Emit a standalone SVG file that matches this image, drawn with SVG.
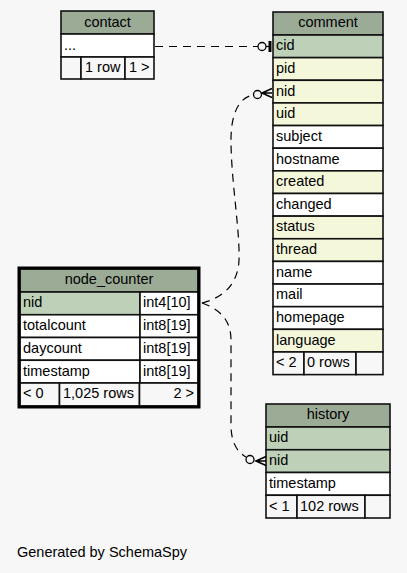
<svg xmlns="http://www.w3.org/2000/svg" width="407" height="573" viewBox="0 0 407 573">
<style>
text{font-family:"Liberation Sans",Arial,sans-serif;font-size:14.5px;fill:#000}
.c{text-anchor:middle}
.r{text-anchor:end}
rect{stroke:#111;stroke-width:1.6}
.h{fill:#9bab96}
.k{fill:#bed1b8}
.f{fill:#f4f7da}
.w{fill:#ffffff}
.b{fill:#f7f7f7}
.focus{fill:none;stroke:#000;stroke-width:3}
.edge{fill:none;stroke:#000;stroke-width:1.2;stroke-dasharray:8,6}
.tip{fill:none;stroke:#000;stroke-width:1.2}
.dot{fill:#f7f7f7;stroke:#000;stroke-width:1.3}
</style>
<rect x="0" y="0" width="407" height="573" style="fill:#f7f7f7;stroke:none"/>

<g id="contact">
<rect class="h" x="61" y="11" width="93" height="23"/>
<text class="c" x="107.5" y="26.5">contact</text>
<rect class="w" x="61" y="34" width="93" height="23"/>
<text x="64" y="49.5">...</text>
<rect class="b" x="61" y="57" width="20" height="22"/>
<rect class="b" x="81" y="57" width="44" height="22"/>
<rect class="b" x="125" y="57" width="29" height="22"/>
<text x="85" y="72">1 row</text>
<text x="129" y="72">1 &gt;</text>
</g>

<g id="comment">
<rect class="h" x="273" y="12" width="110" height="23"/>
<text class="c" x="328" y="27.3">comment</text>
<rect class="k" x="273" y="35" width="110" height="22.64"/>
<text x="276" y="50.3">cid</text>
<rect class="f" x="273" y="57.64" width="110" height="22.64"/>
<text x="276" y="72.9">pid</text>
<rect class="f" x="273" y="80.28" width="110" height="22.64"/>
<text x="276" y="95.6">nid</text>
<rect class="f" x="273" y="102.92" width="110" height="22.64"/>
<text x="276" y="118.2">uid</text>
<rect class="w" x="273" y="125.56" width="110" height="22.64"/>
<text x="276" y="140.9">subject</text>
<rect class="w" x="273" y="148.2" width="110" height="22.64"/>
<text x="276" y="163.5">hostname</text>
<rect class="f" x="273" y="170.84" width="110" height="22.64"/>
<text x="276" y="186.1">created</text>
<rect class="w" x="273" y="193.48" width="110" height="22.64"/>
<text x="276" y="208.8">changed</text>
<rect class="f" x="273" y="216.12" width="110" height="22.64"/>
<text x="276" y="231.4">status</text>
<rect class="f" x="273" y="238.76" width="110" height="22.64"/>
<text x="276" y="254.1">thread</text>
<rect class="w" x="273" y="261.4" width="110" height="22.64"/>
<text x="276" y="276.7">name</text>
<rect class="w" x="273" y="284.04" width="110" height="22.64"/>
<text x="276" y="299.3">mail</text>
<rect class="w" x="273" y="306.68" width="110" height="22.64"/>
<text x="276" y="322">homepage</text>
<rect class="f" x="273" y="329.32" width="110" height="22.64"/>
<text x="276" y="344.6">language</text>
<rect class="b" x="273" y="351.96" width="31" height="22.64"/>
<rect class="b" x="304" y="351.96" width="52" height="22.64"/>
<rect class="b" x="356" y="351.96" width="27" height="22.64"/>
<text x="276" y="367.3">&lt; 2</text>
<text x="307" y="367.3">0 rows</text>
</g>

<g id="node_counter">
<rect class="h" x="20" y="269" width="178" height="23"/>
<text class="c" x="109" y="284.3">node_counter</text>
<rect class="k" x="20" y="292" width="120" height="22.75"/>
<rect class="w" x="140" y="292" width="58" height="22.75"/>
<text x="23" y="307.3">nid</text>
<text x="143" y="307.3">int4[10]</text>
<rect class="w" x="20" y="314.75" width="120" height="22.75"/>
<rect class="w" x="140" y="314.75" width="58" height="22.75"/>
<text x="23" y="330">totalcount</text>
<text x="143" y="330">int8[19]</text>
<rect class="w" x="20" y="337.5" width="120" height="22.75"/>
<rect class="w" x="140" y="337.5" width="58" height="22.75"/>
<text x="23" y="352.8">daycount</text>
<text x="143" y="352.8">int8[19]</text>
<rect class="w" x="20" y="360.25" width="120" height="22.75"/>
<rect class="w" x="140" y="360.25" width="58" height="22.75"/>
<text x="23" y="375.5">timestamp</text>
<text x="143" y="375.5">int8[19]</text>
<rect class="b" x="20" y="383" width="39.5" height="23"/>
<rect class="b" x="59.5" y="383" width="80" height="23"/>
<rect class="b" x="139.5" y="383" width="58.5" height="23"/>
<text x="23" y="398.3">&lt; 0</text>
<text x="63" y="398.3">1,025 rows</text>
<text class="r" x="194" y="398.3">2 &gt;</text>
<rect class="focus" x="19" y="268" width="180" height="139"/>
</g>

<g id="history">
<rect class="h" x="266" y="404" width="124" height="23"/>
<text class="c" x="328" y="419.3">history</text>
<rect class="k" x="266" y="427" width="124" height="22.75"/>
<text x="269" y="442.3">uid</text>
<rect class="k" x="266" y="449.75" width="124" height="22.75"/>
<text x="269" y="465">nid</text>
<rect class="w" x="266" y="472.5" width="124" height="22.75"/>
<text x="269" y="487.8">timestamp</text>
<rect class="b" x="266" y="495.25" width="31" height="22.75"/>
<rect class="b" x="297" y="495.25" width="68" height="22.75"/>
<rect class="b" x="365" y="495.25" width="25" height="22.75"/>
<text x="269" y="510.5">&lt; 1</text>
<text x="300" y="510.5">102 rows</text>
</g>

<g id="connectors">
<path class="edge" d="M155,46.5 L258,46.5"/>
<line class="tip" x1="258" y1="46.5" x2="270" y2="46.5"/>
<circle class="dot" cx="262" cy="46.5" r="4"/>
<line x1="270" y1="41" x2="270" y2="52" style="stroke:#000;stroke-width:3"/>

<path class="edge" d="M202,303 C225,297 238,283 239,260 C240,230 231,180 231,140 C231,115 238,98 253,95"/>
<circle class="dot" cx="257.5" cy="94.5" r="4"/>
<path class="tip" style="stroke-width:1.6" d="M272,88.5 L262,93 L272,97.5 M262,93 L272,93"/>

<path class="edge" d="M202,303 C222,310 231,322 231,340 L231,425 C231,442 237,452 246,457"/>
<circle class="dot" cx="250" cy="459.5" r="4"/>
<path class="tip" style="stroke-width:1.6" d="M266,456.5 L256,461 L266,465.5 M256,461 L266,461"/>
</g>

<text x="17" y="557">Generated by SchemaSpy</text>
</svg>
